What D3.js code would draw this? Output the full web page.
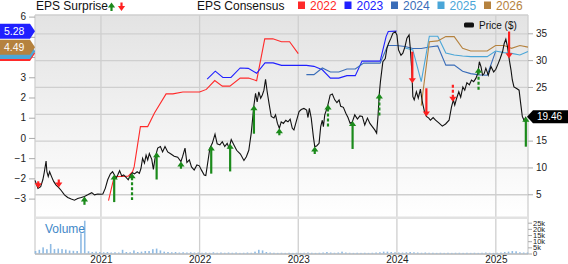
<!DOCTYPE html>
<html>
<head>
<meta charset="utf-8">
<script src="https://cdn.jsdelivr.net/npm/d3@7"></script>
<style>
  body { margin: 0; background: #fff; }
  text { font-family: "Liberation Sans", Arial, sans-serif; }
</style>
</head>
<body>
<div class="chart"></div>
<script>
// ---- data ----
var priceDates = ["2020-05-02","2020-05-13","2020-05-23","2020-05-31","2020-06-05","2020-06-12","2020-06-15","2020-06-20","2020-06-25","2020-07-03",
  "2020-07-10","2020-07-19","2020-07-28","2020-08-07","2020-08-19","2020-08-31","2020-09-13","2020-09-25","2020-10-07","2020-10-20",
  "2020-11-01","2020-11-13","2020-11-28","2020-12-08","2020-12-20","2021-01-02","2021-01-08","2021-01-17","2021-01-26","2021-02-05",
  "2021-02-13","2021-02-20","2021-02-26","2021-03-04","2021-03-11","2021-03-19","2021-03-26","2021-04-04","2021-04-12","2021-04-20",
  "2021-04-28","2021-05-05","2021-05-15","2021-05-23","2021-05-29","2021-06-04","2021-06-11","2021-06-17","2021-06-23","2021-06-29",
  "2021-07-08","2021-07-14","2021-07-20","2021-07-30","2021-08-09","2021-08-17","2021-08-26","2021-09-05","2021-09-17","2021-09-29",
  "2021-10-12","2021-10-24","2021-10-30","2021-11-08","2021-11-15","2021-11-24","2021-12-02","2021-12-12","2021-12-22","2021-12-31",
  "2022-01-08","2022-01-18","2022-01-24","2022-02-08","2022-02-17","2022-02-27","2022-03-07","2022-03-17","2022-03-26","2022-04-04",
  "2022-04-13","2022-04-20","2022-04-28","2022-05-08","2022-05-18","2022-06-01","2022-06-14","2022-06-23","2022-07-02","2022-07-11",
  "2022-07-21","2022-07-27","2022-08-02","2022-08-08","2022-08-15","2022-08-21","2022-08-27","2022-09-02","2022-09-08","2022-09-15",
  "2022-09-23","2022-10-03","2022-10-09","2022-10-16","2022-10-23","2022-10-30","2022-11-07","2022-11-16","2022-11-24","2022-12-02",
  "2022-12-10","2022-12-16","2022-12-26","2023-01-04","2023-01-12","2023-01-22","2023-02-01","2023-02-06","2023-02-11","2023-02-18",
  "2023-02-26","2023-03-03","2023-03-10","2023-03-19","2023-03-25","2023-03-31","2023-04-04","2023-04-09","2023-04-19","2023-04-29",
  "2023-05-07","2023-05-16","2023-05-24","2023-06-01","2023-06-07","2023-06-17","2023-06-26","2023-07-04","2023-07-12","2023-07-20",
  "2023-07-29","2023-08-08","2023-08-17","2023-08-26","2023-09-04","2023-09-14","2023-09-23","2023-10-02","2023-10-11","2023-10-18",
  "2023-10-23","2023-10-28","2023-11-01","2023-11-10","2023-11-19","2023-11-25","2023-12-01","2023-12-10","2023-12-17","2023-12-26",
  "2024-01-01","2024-01-07","2024-01-16","2024-01-23","2024-01-31","2024-02-07","2024-02-15","2024-02-19","2024-02-25","2024-02-29",
  "2024-03-05","2024-03-13","2024-03-20","2024-03-28","2024-04-04","2024-04-12","2024-04-19","2024-04-28","2024-05-04","2024-05-14",
  "2024-05-23","2024-06-04","2024-06-17","2024-06-29","2024-07-12","2024-07-21","2024-07-28","2024-08-02","2024-08-09","2024-08-17",
  "2024-08-24","2024-09-01","2024-09-08","2024-09-16","2024-09-25","2024-10-03","2024-10-11","2024-10-19","2024-10-26","2024-11-01",
  "2024-11-07","2024-11-13","2024-11-19","2024-11-25","2024-12-04","2024-12-14","2024-12-24","2025-01-01","2025-01-10","2025-01-17",
  "2025-01-26","2025-02-01","2025-02-07","2025-02-13","2025-02-20","2025-02-26","2025-03-03","2025-03-09","2025-03-19","2025-03-28",
  "2025-04-03","2025-04-09","2025-04-16","2025-04-22"];
var priceValues = [7.6,6.1,6.4,7.7,9.0,11.2,9.2,8.3,9.2,8.2,
  7.4,6.7,6.3,5.7,4.9,4.4,4.1,3.9,4.2,4.4,
  4.6,4.9,5.3,4.9,5.05,5.0,5.05,6.1,7.7,8.8,
  9.2,8.6,8.0,8.6,9.4,8.4,8.6,8.15,7.7,8.6,
  9.0,8.8,9.2,8.9,9.8,11.7,10.8,12.3,11.4,12.6,
  11.5,9.65,11.7,13.6,13.9,12.9,13.9,12.9,12.5,12.1,
  11.9,11.1,12.0,13.6,10.9,11.4,10.1,9.5,10.45,10.3,
  9.5,8.6,8.5,13.6,14.5,16.2,14.4,14.2,14.8,13.9,
  14.5,13.6,15.2,14.2,13.2,12.5,11.3,12.0,13.2,16.4,
  21.6,23.8,22.2,24.1,22.9,23.5,24.4,26.4,24.1,21.9,
  19.5,19.2,19.8,18.2,17.3,18.5,18.2,18.8,18.5,19.0,
  17.3,17.0,18.8,20.4,20.8,21.0,20.7,19.3,21.0,19.2,
  15.7,13.9,14.0,14.5,17.6,18.8,17.6,19.8,21.3,23.5,
  23.7,22.6,22.1,22.6,21.4,21.2,20.1,19.3,18.2,18.5,
  19.8,19.0,19.6,19.5,17.9,19.2,18.2,17.6,17.0,16.4,
  19.5,23.8,26.0,29.7,30.3,32.2,33.1,34.1,35.0,35.3,
  34.7,31.9,30.9,31.3,32.5,34.1,34.7,32.5,28.2,23.2,
  22.6,24.1,22.9,24.6,22.2,20.4,19.5,19.2,18.8,19.3,
  18.8,18.3,17.7,18.1,18.8,21.3,22.6,21.6,22.9,24.1,
  23.1,25.0,24.4,25.8,25.4,26.3,26.0,26.6,27.5,29.7,
  28.8,27.2,27.5,28.5,27.2,28.8,27.8,28.3,29.4,30.3,
  31.6,33.1,33.9,32.5,30.0,28.2,26.3,25.0,24.7,24.4,
  21.9,19.5,18.7,19.46];

// EPS consensus by fiscal year
var cons2022Dates = ["2021-01-29","2021-02-13","2021-02-19","2021-04-12","2021-04-28","2021-05-04","2021-05-27","2021-06-23","2021-07-18","2021-08-30",
  "2021-09-24","2021-10-31","2022-01-01","2022-01-26","2022-02-26","2022-03-26","2022-04-23","2022-05-31","2022-07-01","2022-07-31",
  "2022-08-30","2022-09-29","2022-10-31","2022-11-30","2023-01-01"];
var cons2022 = [-3.1,-2.25,-1.92,-1.89,-1.67,-1.42,0.56,0.56,1.23,2.18,
  2.18,2.27,2.27,2.40,2.84,2.56,2.56,2.96,2.96,2.83,
  4.90,4.90,4.76,4.76,4.17];
var cons2023Dates = ["2022-01-29","2022-02-28","2022-03-28","2022-04-27","2022-05-31","2022-06-30","2022-07-31","2022-08-31","2022-09-30","2022-10-31",
  "2022-11-30","2022-12-31","2023-01-31","2023-02-28","2023-03-31","2023-04-30","2023-05-31","2023-06-30","2023-07-31","2023-08-25",
  "2023-09-30","2023-10-31","2023-11-22","2023-11-30","2023-12-31"];
var cons2023 = [2.91,3.30,2.99,2.99,3.46,3.44,3.20,3.71,3.71,3.59,
  3.59,3.59,3.59,3.54,3.37,2.96,2.96,3.08,3.08,3.80,
  3.80,3.80,5.01,5.26,5.28];
var cons2024Dates = ["2023-01-31","2023-02-28","2023-03-31","2023-04-30","2023-05-31","2023-06-30","2023-07-31","2023-08-31","2023-09-30","2023-10-31",
  "2023-11-28","2023-12-31","2024-01-31","2024-02-29","2024-03-31","2024-04-30","2024-05-31","2024-06-30","2024-07-31","2024-08-31",
  "2024-09-30","2024-10-31","2024-11-30","2024-12-31"];
var cons2024 = [3.13,3.13,3.46,3.26,3.26,3.41,3.41,3.70,3.70,3.70,
  4.57,4.57,4.52,4.42,4.42,4.50,4.55,3.60,3.60,3.30,
  3.18,3.12,3.10,4.27];
var cons2025Dates = ["2024-01-31","2024-02-29","2024-03-31","2024-04-30","2024-05-31","2024-06-30","2024-07-31","2024-08-31","2024-09-30","2024-10-31",
  "2024-11-30","2024-12-31","2025-01-31","2025-02-28","2025-03-31","2025-04-30"];
var cons2025 = [4.45,4.35,2.78,5.03,5.03,4.20,4.10,4.05,4.02,4.02,
  4.02,4.30,4.22,4.18,4.10,4.28];
var cons2026Dates = ["2024-03-31","2024-04-30","2024-05-31","2024-06-30","2024-07-31","2024-08-31","2024-09-30","2024-10-31","2024-11-30","2024-12-31",
  "2025-01-31","2025-02-28","2025-03-31","2025-04-30"];
var cons2026 = [1.6,4.76,4.80,5.01,5.01,4.43,4.30,4.30,4.30,4.57,
  4.57,4.43,4.57,4.49];

// EPS surprise arrows (sign = beat/miss, size = arrow magnitude)
var surpriseDates = ["2020-05-14","2020-07-29","2020-11-01","2021-02-19","2021-04-26","2021-07-26","2021-10-24","2022-02-13","2022-04-24","2022-07-21",
  "2022-10-23","2023-03-03","2023-04-21","2023-07-21","2023-10-28","2024-02-27","2024-04-19","2024-07-26","2024-10-29","2025-02-19","2025-04-22"];
var surpriseSize = [-23,-27,28,92,89,91,24,94,92,95,24,25,80,93,78,-105,-94,-61,78,-89,100];
var surpriseDashed = [0,0,0,0,1,0,0,0,0,0,1,0,1,0,1,0,0,1,1,0,0];

// volume (thousands), one bar every two weeks from volStart
var volStart = "2020-05-04";
var volume = [2,3,5,3.5,7.7,3.6,4,3.6,3.2,2.4,
  2.2,2,16.4,26.6,1.8,1.2,1.5,1.2,1.0,1.2,
  0.8,1.0,0.8,3,1.2,1.0,2.5,1.2,1.5,2,
  2,3.5,4,2.5,1.5,1.2,1.0,1.2,0.8,1.0,
  0.8,1.0,0.8,0.8,0.6,0.8,0.6,1.0,0.6,0.8,
  0.6,0.8,0.6,0.8,0.5,0.6,0.8,0.6,1.5,3,
  2.5,1.2,0.8,0.6,0.5,0.6,0.5,0.6,0.5,0.6,
  0.5,0.6,0.8,0.6,0.5,0.6,0.8,1.2,0.8,0.6,
  0.8,1.5,0.8,0.6,0.5,0.6,0.5,0.6,0.5,0.6,
  0.8,1.0,1.5,1.5,1.2,1.0,0.8,0.8,1.0,1.2,
  1.0,0.8,0.6,0.8,0.6,0.6,0.5,0.6,0.5,0.6,
  0.5,0.6,0.6,0.5,0.6,0.5,0.6,0.5,0.6,0.8,
  0.6,0.5,0.6,0.8,1.2,1.5,2.0,1.8,1.0,0.8,
  0.8];

var epsTicks = [-3,-2,-1,0,1,2,3,4,5,6];
var priceTicks = [5,10,15,20,25,30,35];
var volTicks = [0,5,10,15,20,25];
var yearTicks = ["2021-01-01","2022-01-01","2023-01-01","2024-01-01","2025-01-01"];
var legendYears = ["2022","2023","2024","2025","2026"];
var lastPrice = 19.46;

// ---- layout ----
var svgWidth = 568;
var svgHeight = 264;
var margin = {top: 15, right: 40, bottom: 10, left: 35};
var plotRight = svgWidth - margin.right;
var mainBottom = 218;
var volBottom = 254;

var yearColors = {"2022": "#ff2a2a", "2023": "#2020ff", "2024": "#3a6db8", "2025": "#4aa6d8", "2026": "#b5823e"};
var gridColor = "#cfcfcf";
var fontFamily = "'Liberation Sans', Arial, sans-serif";

var parseDate = d3.timeParse("%Y-%m-%d");

var svg = d3.select(".chart").append("svg")
  .attr("width", svgWidth)
  .attr("height", svgHeight);

var xScale = d3.scaleTime()
  .domain([parseDate("2020-05-02"), parseDate("2025-04-30")])
  .range([margin.left, plotRight]);
var yPrice = d3.scaleLinear().domain([0, 35]).range([221.1, 33.3]);
var yEps = d3.scaleLinear().domain([-3, 6]).range([198.6, 16.6]);
var yVol = d3.scaleLinear().domain([0, 25]).range([253.5, 222.7]);
var lenScale = d3.scaleLinear().domain([0, 100]).range([0, 30]);

// consensus series objects
var consSeries = [
  {year: "2022", dates: cons2022Dates, values: cons2022},
  {year: "2023", dates: cons2023Dates, values: cons2023},
  {year: "2024", dates: cons2024Dates, values: cons2024},
  {year: "2025", dates: cons2025Dates, values: cons2025},
  {year: "2026", dates: cons2026Dates, values: cons2026}
];
consSeries.forEach(function(s) {
  s.points = s.dates.map((d, i) => ({date: parseDate(d), value: s.values[i]}));
  s.last = s.values[s.values.length - 1];
});

// tag drawing order: later ones sit on top
var tagOrder = ["2024", "2022", "2025", "2026", "2023"];
var tagY = tagOrder.map(yr => yEps(consSeries.find(c => c.year === yr).last));

// background gradient
var grad = svg.append("defs").append("linearGradient")
  .attr("id", "bg").attr("x1", 0).attr("y1", 0).attr("x2", 0).attr("y2", 1);
grad.append("stop").attr("offset", "0%").attr("stop-color", "#e3e3e3");
grad.append("stop").attr("offset", "100%").attr("stop-color", "#ffffff");

svg.append("rect")
  .attr("x", margin.left).attr("y", margin.top)
  .attr("width", plotRight - margin.left).attr("height", mainBottom - margin.top)
  .attr("fill", "url(#bg)");

// horizontal price gridlines
var hGrid = svg.append("g")
  .attr("transform", `translate(${margin.left},0)`)
  .call(d3.axisRight(yPrice).tickValues(priceTicks).tickSize(plotRight - margin.left).tickFormat(""));
hGrid.select(".domain").remove();
hGrid.selectAll("line").attr("stroke", gridColor).attr("stroke-width", 1.3);

// vertical year gridlines
svg.append("g").selectAll("line")
  .data(yearTicks.map(parseDate))
  .enter().append("line")
  .attr("x1", d => xScale(d)).attr("x2", d => xScale(d))
  .attr("y1", margin.top).attr("y2", volBottom)
  .attr("stroke", gridColor).attr("stroke-width", 1.3);

// frame
svg.append("line").attr("x1", margin.left).attr("x2", plotRight).attr("y1", margin.top).attr("y2", margin.top)
  .attr("stroke", gridColor).attr("stroke-width", 1.3);
svg.append("line").attr("x1", margin.left).attr("x2", margin.left).attr("y1", margin.top).attr("y2", volBottom)
  .attr("stroke", gridColor).attr("stroke-width", 1.3);
svg.append("line").attr("x1", plotRight).attr("x2", plotRight).attr("y1", margin.top).attr("y2", volBottom)
  .attr("stroke", gridColor).attr("stroke-width", 1.3);
svg.append("line").attr("x1", margin.left).attr("x2", plotRight).attr("y1", volBottom).attr("y2", volBottom)
  .attr("stroke", "#b5b5b5").attr("stroke-width", 1.3);
svg.append("rect").attr("x", margin.left).attr("y", 216.5)
  .attr("width", plotRight - margin.left).attr("height", 2.5).attr("fill", "#e2e2e2");

// volume bars
var volData = volume.map((v, i) => ({date: d3.timeDay.offset(parseDate(volStart), 14 * i), value: v}));
svg.append("g").selectAll("rect")
  .data(volData)
  .enter().append("rect")
  .attr("x", d => xScale(d.date) - 0.8)
  .attr("width", 1.6)
  .attr("y", d => yVol(d.value))
  .attr("height", d => yVol(0) - yVol(d.value))
  .attr("fill", "#8fbbe4");

svg.append("text")
  .attr("x", 45).attr("y", 233)
  .attr("font-size", "12px").attr("fill", "#3f88c8")
  .text("Volume");

// consensus lines
var consLine = d3.line()
  .x(d => xScale(d.date))
  .y(d => yEps(d.value));

svg.append("g").selectAll("path")
  .data(consSeries)
  .enter().append("path")
  .attr("d", d => consLine(d.points))
  .attr("fill", "none")
  .attr("stroke", d => yearColors[d.year])
  .attr("stroke-width", 1.1);

// price line
var priceData = priceDates.map((d, i) => ({date: parseDate(d), value: priceValues[i]}));
var priceLine = d3.line()
  .x(d => xScale(d.date))
  .y(d => yPrice(d.value));

svg.append("path")
  .attr("d", priceLine(priceData))
  .attr("fill", "none")
  .attr("stroke", "#111")
  .attr("stroke-width", 1.1);

// price at a date (for placing the surprise arrows on the line)
var bisect = d3.bisector(d => d.date).left;
function priceAt(date) {
  var i = bisect(priceData, date);
  if (i <= 0) return priceData[0].value;
  if (i >= priceData.length) return priceData[priceData.length - 1].value;
  var a = priceData[i - 1], b = priceData[i];
  var t = (date - a.date) / (b.date - a.date);
  return a.value + t * (b.value - a.value);
}

function drawArrow(g, cx, tipY, len, up, dashed) {
  var color = up ? "#1b8a1b" : "#ff2020";
  var dir = up ? 1 : -1;
  var headH = 5, headW = 3.6;
  if (len > headH) {
    g.append("line")
      .attr("x1", cx).attr("x2", cx)
      .attr("y1", tipY + dir * (headH - 1)).attr("y2", tipY + dir * len)
      .attr("stroke", color).attr("stroke-width", 2.2)
      .attr("stroke-dasharray", dashed ? "3,2" : null);
  }
  g.append("path")
    .attr("d", `M${cx},${tipY} L${cx + headW},${tipY + dir * headH} L${cx - headW},${tipY + dir * headH} Z`)
    .attr("fill", color);
}

var arrowGroup = svg.append("g");
surpriseDates.forEach(function(d, i) {
  var date = parseDate(d);
  var s = surpriseSize[i];
  drawArrow(arrowGroup, xScale(date), yPrice(priceAt(date)), lenScale(Math.abs(s)), s > 0, surpriseDashed[i] === 1);
});

// left axis (EPS); labels under the value tags are hidden as in the original
var leftAxis = svg.append("g")
  .attr("transform", `translate(${margin.left},0)`)
  .call(d3.axisLeft(yEps).tickValues(epsTicks).tickSize(6).tickPadding(3)
    .tickFormat(d => tagY.some(t => Math.abs(t - yEps(d)) < 9) ? "" : d3.format("d")(d)));
leftAxis.select(".domain").remove();
leftAxis.selectAll("line").attr("stroke", "#aaa");
leftAxis.selectAll("text").attr("font-size", "10px").attr("fill", "#222").attr("font-family", fontFamily);

// right axis (price); label under the last-price tag is hidden
var rightAxis = svg.append("g")
  .attr("transform", `translate(${plotRight},0)`)
  .call(d3.axisRight(yPrice).tickValues(priceTicks).tickSize(5).tickPadding(3)
    .tickFormat(d => Math.abs(yPrice(d) - yPrice(lastPrice)) < 9 ? "" : d));
rightAxis.select(".domain").remove();
rightAxis.selectAll("line").attr("stroke", "#aaa");
rightAxis.selectAll("text").attr("font-size", "10px").attr("fill", "#222").attr("font-family", fontFamily);

// right axis (volume)
var volAxis = svg.append("g")
  .attr("transform", `translate(${plotRight},0)`)
  .call(d3.axisRight(yVol).tickValues(volTicks).tickSize(4).tickPadding(1)
    .tickFormat(d => d === 0 ? "0" : d + "k"));
volAxis.select(".domain").remove();
volAxis.selectAll("line").attr("stroke", "#aaa");
volAxis.selectAll("text").attr("font-size", "7.5px").attr("fill", "#222").attr("font-family", fontFamily);

// bottom axis (years)
var bottomAxis = svg.append("g")
  .attr("transform", `translate(0,${volBottom})`)
  .call(d3.axisBottom(xScale).tickValues(yearTicks.map(parseDate)).tickSize(0).tickPadding(2)
    .tickFormat(d3.timeFormat("%Y")));
bottomAxis.select(".domain").remove();
bottomAxis.selectAll("text").attr("font-size", "10px").attr("fill", "#222").attr("font-family", fontFamily);

// left value tags (latest consensus per year)
var tagGroup = svg.append("g");
tagOrder.forEach(function(yr, k) {
  var s = consSeries.find(c => c.year === yr);
  var cy = tagY[k];
  tagGroup.append("path")
    .attr("d", `M0,${cy - 7.5} L30,${cy - 7.5} L35,${cy} L30,${cy + 7.5} L0,${cy + 7.5} Z`)
    .attr("fill", yearColors[yr]);
  // only label tags that are not covered by a later one
  var covered = tagY.slice(k + 1).some(t => Math.abs(t - cy) < 10);
  if (!covered) {
    tagGroup.append("text")
      .attr("x", 4).attr("y", cy + 3.6)
      .attr("font-size", "10.5px").attr("fill", "#fff")
      .text(d3.format(".2f")(s.last));
  }
});

// last price tag
var py = yPrice(lastPrice);
svg.append("path")
  .attr("d", `M${plotRight - 1},${py} L${plotRight + 5},${py - 6.5} L${svgWidth},${py - 6.5} L${svgWidth},${py + 6.5} L${plotRight + 5},${py + 6.5} Z`)
  .attr("fill", "#000");
svg.append("text")
  .attr("x", plotRight + 9).attr("y", py + 3.6)
  .attr("font-size", "10px").attr("fill", "#fff")
  .text(d3.format(".2f")(lastPrice));

// price legend
svg.append("rect").attr("x", 464).attr("y", 22.5).attr("width", 10).attr("height", 5).attr("rx", 1.5).attr("fill", "#111");
svg.append("text").attr("x", 479).attr("y", 28.5).attr("font-size", "10px").attr("fill", "#111").text("Price ($)");

// top legend
svg.append("text").attr("x", 36).attr("y", 10).attr("font-size", "12px").attr("fill", "#111").text("EPS Surprise");
var legendArrows = svg.append("g");
drawArrow(legendArrows, 111.5, 2.5, 8.5, true, false);
drawArrow(legendArrows, 121.5, 11, 8.5, false, false);

svg.append("text").attr("x", 197).attr("y", 10).attr("font-size", "12px").attr("fill", "#111").text("EPS Consensus");

var legend = svg.append("g").selectAll("g")
  .data(legendYears)
  .enter().append("g")
  .attr("transform", (d, i) => `translate(${298 + i * 46.5},0)`);
legend.append("rect")
  .attr("x", 0).attr("y", 1.5).attr("width", 7).attr("height", 7.5)
  .attr("fill", d => yearColors[d]);
legend.append("text")
  .attr("x", 12).attr("y", 9.5)
  .attr("font-size", "12px")
  .attr("fill", d => yearColors[d])
  .text(d => d);
</script>
</body>
</html>
